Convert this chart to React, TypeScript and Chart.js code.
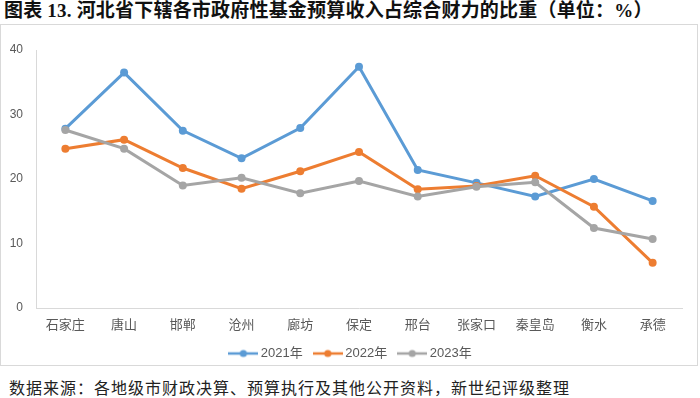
import { useEffect, useRef } from "react";
import { Chart, registerables } from "chart.js";

Chart.register(...registerables);

const categories = ["石家庄", "唐山", "邯郸", "沧州", "廊坊", "保定", "邢台", "张家口", "秦皇岛", "衡水", "承德"];
const seriesNames = ["2021年", "2022年", "2023年"];
const values2021 = [27.8, 36.5, 27.5, 23.2, 27.9, 37.4, 21.4, 19.4, 17.3, 20.0, 16.6];
const values2022 = [24.7, 26.1, 21.7, 18.5, 21.2, 24.2, 18.4, 18.9, 20.5, 15.7, 7.0];
const values2023 = [27.6, 24.7, 19.0, 20.2, 17.8, 19.7, 17.3, 18.8, 19.5, 12.4, 10.7];
const seriesColors = ["#5B9BD5", "#ED7D31", "#A5A5A5"];
const yMin = 0;
const yMax = 40;
const yStep = 10;

const titleText = "图表 13.  河北省下辖各市政府性基金预算收入占综合财力的比重（单位：%）";
const sourceText = "数据来源：各地级市财政决算、预算执行及其他公开资料，新世纪评级整理";

function makeMarker(color: string): HTMLCanvasElement {
  const c = document.createElement("canvas");
  c.width = 30;
  c.height = 10;
  const ctx = c.getContext("2d")!;
  ctx.strokeStyle = color;
  ctx.lineWidth = 2.5;
  ctx.beginPath();
  ctx.moveTo(0, 5);
  ctx.lineTo(30, 5);
  ctx.stroke();
  ctx.fillStyle = color;
  ctx.beginPath();
  ctx.arc(15, 5, 3.6, 0, Math.PI * 2);
  ctx.fill();
  return c;
}

export default function App() {
  const canvasRef = useRef<HTMLCanvasElement | null>(null);

  useEffect(() => {
    if (!canvasRef.current) return;
    const allValues = [values2021, values2022, values2023];
    const markers = seriesColors.map(makeMarker);
    const chart = new Chart(canvasRef.current, {
      type: "line",
      data: {
        labels: categories,
        datasets: allValues.map((vals, i) => ({
          label: seriesNames[i],
          data: vals,
          borderColor: seriesColors[i],
          backgroundColor: seriesColors[i],
          borderWidth: 3,
          pointRadius: 4,
          pointBorderWidth: 0,
          pointBackgroundColor: seriesColors[i],
          tension: 0,
          order: 2 - i,
          yAxisID: "y",
        })),
      },
      options: {
        animation: false,
        responsive: false,
        maintainAspectRatio: false,
        layout: { padding: { top: 26, left: 6, right: 0, bottom: 0 } },
        plugins: {
          tooltip: { enabled: false },
          legend: {
            position: "bottom",
            labels: {
              usePointStyle: true,
              pointStyleWidth: 22,
              padding: 14,
              color: "#595959",
              font: { family: "'Liberation Sans', 'Noto Sans CJK SC', sans-serif", size: 13 },
              sort: (a: any, b: any) => a.datasetIndex - b.datasetIndex,
              generateLabels: (ch: any) => {
                const items = Chart.defaults.plugins.legend.labels.generateLabels(ch);
                items.forEach((it: any) => {
                  it.pointStyle = markers[it.datasetIndex];
                });
                return items;
              },
            },
          },
        },
        scales: {
          x: {
            offset: true,
            grid: { display: false, drawTicks: false, offset: true },
            border: { display: true, color: "#D9D9D9", width: 1 },
            ticks: {
              padding: 8,
              color: "#595959",
              font: { family: "'Noto Sans CJK SC', sans-serif", size: 13 },
              maxRotation: 0,
              autoSkip: false,
            },
            afterFit: (s: any) => {
              s.height = 25;
            },
          },
          y: {
            min: yMin,
            max: yMax,
            grid: { display: false, drawTicks: false },
            border: { display: true, color: "#D9D9D9", width: 1 },
            ticks: {
              stepSize: yStep,
              padding: 13,
              color: "#595959",
              font: { family: "'Liberation Sans', sans-serif", size: 12 },
            },
            afterFit: (s: any) => {
              s.width = 30;
            },
          },
          yRight: {
            position: "right",
            min: yMin,
            max: yMax,
            grid: { display: false, drawTicks: false },
            border: { display: false },
            ticks: { display: false },
            afterFit: (s: any) => {
              s.width = 16;
            },
          },
        },
      },
    });
    return () => chart.destroy();
  }, []);

  return (
    <div style={{ position: "absolute", left: 0, top: 0, width: 700, height: 398, background: "#fff", overflow: "hidden" }}>
      <div
        style={{
          position: "absolute",
          left: 4,
          top: 0,
          height: 22,
          lineHeight: "22px",
          fontFamily: "'Liberation Serif', 'Noto Sans CJK SC', serif",
          fontWeight: 700,
          fontSize: 19,
          letterSpacing: 0.2,
          color: "#111",
          whiteSpace: "nowrap",
        }}
      >
        {titleText}
      </div>
      <div
        style={{
          position: "absolute",
          left: 0,
          top: 24,
          width: 698,
          height: 342,
          boxSizing: "border-box",
          border: "1px solid #D9D9D9",
        }}
      />
      <canvas
        ref={canvasRef}
        width={698}
        height={346}
        style={{ position: "absolute", left: 0, top: 24, width: 698, height: 346 }}
      />
      <div
        style={{
          position: "absolute",
          left: 9,
          top: 377,
          height: 20,
          lineHeight: "20px",
          fontFamily: "'Noto Sans CJK SC', sans-serif",
          fontSize: 16,
          letterSpacing: 1.0,
          color: "#222",
          whiteSpace: "nowrap",
        }}
      >
        {sourceText}
      </div>
    </div>
  );
}
